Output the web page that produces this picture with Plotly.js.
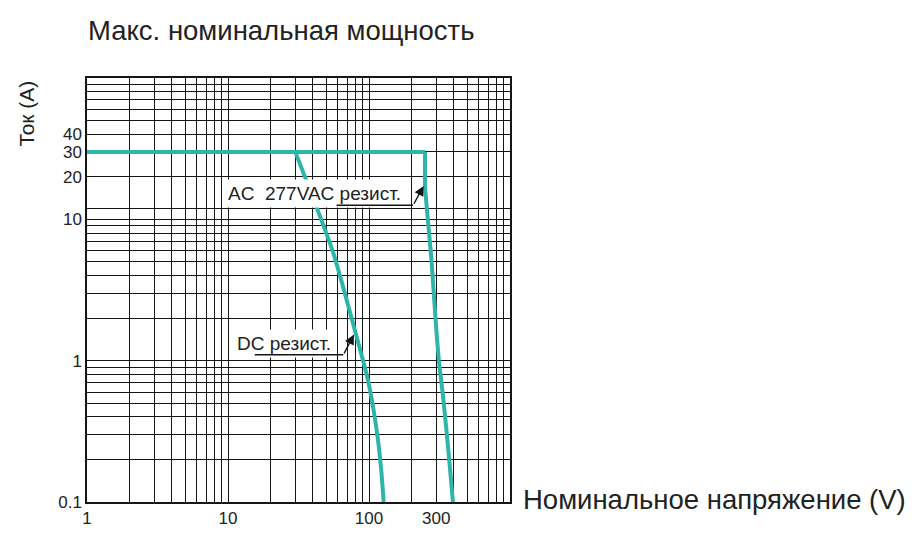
<!DOCTYPE html>
<html>
<head>
<meta charset="utf-8">
<script src="https://cdn.plot.ly/plotly-3.0.1.min.js"></script>
<style>
  html, body { margin: 0; padding: 0; background: #ffffff; }
  #chart { width: 920px; height: 536px; }
</style>
</head>
<body>
<div id="chart"></div>
<script>
// ---- data ----
// common current limit (A) across voltage (V)
const limitVolts = [1, 250];
const limitAmps = [30, 30];
// AC 277VAC resistive load curve
const acVolts = [250, 250, 277, 300, 313, 335, 363, 394];
const acAmps = [30, 17, 5.25, 1.67, 1.0, 0.56, 0.25, 0.1];
// DC resistive load curve
const dcVolts = [30, 55.6, 79, 98, 113, 122, 127];
const dcAmps = [30, 5.85, 1.67, 0.74, 0.33, 0.17, 0.1];
// labelled ticks
const xTickVals = [1, 10, 100, 300];
const xTickText = ['1', '10', '100', '300'];
const yTickVals = [0.1, 1, 10, 20, 30, 40];
const yTickText = ['0.1', '1', '10', '20', '30', '40'];
// label anchor points on the curves
const acLabelPoint = [250, 18];
const dcLabelPoint = [80, 1.6];

// ---- grid positions (every 1..9 per decade), unlabelled unless listed above ----
function decadeGrid(lo, hi, extra) {
  const out = [];
  for (let e = lo; e < hi; e++) {
    for (let m = 1; m <= 9; m++) out.push(+(m * Math.pow(10, e)).toPrecision(6));
  }
  out.push(Math.pow(10, hi));
  return out.concat(extra || []).sort((a, b) => a - b);
}
function labelsFor(vals, labVals, labText) {
  return vals.map(v => {
    const i = labVals.findIndex(l => Math.abs(l - v) / l < 1e-6);
    return i >= 0 ? labText[i] : '';
  });
}
const gridX = decadeGrid(0, 3, []);
const gridY = decadeGrid(-1, 2, [12]);

const FONT = 'Liberation Sans, Arial, Helvetica, sans-serif';
const INK = '#151515';
const TEAL = '#2cb5a8';

const lineStyle = { color: TEAL, width: 4 };

const traces = [
  { x: limitVolts, y: limitAmps, mode: 'lines', line: lineStyle, hoverinfo: 'skip' },
  { x: acVolts, y: acAmps, mode: 'lines', line: Object.assign({ shape: 'spline', smoothing: 0.5 }, lineStyle), hoverinfo: 'skip' },
  { x: dcVolts, y: dcAmps, mode: 'lines', line: Object.assign({ shape: 'spline', smoothing: 0.6 }, lineStyle), hoverinfo: 'skip' }
];

const axisCommon = {
  type: 'log',
  tickmode: 'array',
  showgrid: true,
  gridcolor: INK,
  gridwidth: 1,
  showline: true,
  mirror: true,
  linecolor: INK,
  linewidth: 1.6,
  ticks: '',
  zeroline: false,
  fixedrange: true,
  tickfont: { family: FONT, size: 17, color: '#222' },
  layer: 'below traces'
};

const xaxis = Object.assign({}, axisCommon, {
  range: [0, 3],
  tickvals: gridX,
  ticktext: labelsFor(gridX, xTickVals, xTickText)
});
const yaxis = Object.assign({}, axisCommon, {
  range: [-1, 2],
  tickvals: gridY,
  ticktext: labelsFor(gridY, yTickVals, yTickText)
});

const lx = v => Math.log10(v);
const arrowCommon = {
  xref: 'x', yref: 'y', showarrow: true, text: '',
  axref: 'pixel', ayref: 'pixel',
  arrowcolor: INK
};

const annotations = [
  // axis titles
  {
    xref: 'paper', yref: 'paper', x: 1.026, y: 0.005, xanchor: 'left', yanchor: 'middle',
    text: 'Номинальное напряжение (V)', showarrow: false,
    font: { family: FONT, size: 27.5, color: '#222' }
  },
  {
    xref: 'paper', yref: 'paper', x: -0.143, y: 0.915, xanchor: 'center', yanchor: 'middle',
    text: 'Ток (A)', textangle: -90, showarrow: false,
    font: { family: FONT, size: 21, color: '#222' }
  },
  // AC label
  {
    xref: 'x', yref: 'y', x: lx(acLabelPoint[0]), y: lx(acLabelPoint[1]),
    text: 'AC\u00a0\u00a0277VAC резист.', showarrow: false,
    xanchor: 'right', yanchor: 'middle', xshift: -20, yshift: -10,
    bgcolor: '#ffffff', borderpad: 3,
    font: { family: FONT, size: 19, color: '#222' }
  },
  Object.assign({}, arrowCommon, {
    x: lx(acLabelPoint[0]), y: lx(acLabelPoint[1]), ax: -12, ay: 22,
    arrowhead: 2, arrowsize: 1.4, arrowwidth: 1.4, standoff: 3
  }),
  Object.assign({}, arrowCommon, {
    x: lx(acLabelPoint[0]), y: lx(acLabelPoint[1]), xshift: -12, yshift: -22, ax: -78, ay: 0,
    arrowhead: 0, arrowwidth: 1.6
  }),
  // DC label
  {
    xref: 'x', yref: 'y', x: lx(dcLabelPoint[0]), y: lx(dcLabelPoint[1]),
    text: 'DC резист.', showarrow: false,
    xanchor: 'right', yanchor: 'middle', xshift: -20, yshift: -12,
    bgcolor: '#ffffff', borderpad: 3,
    font: { family: FONT, size: 19, color: '#222' }
  },
  Object.assign({}, arrowCommon, {
    x: lx(dcLabelPoint[0]), y: lx(dcLabelPoint[1]), ax: -12, ay: 23,
    arrowhead: 2, arrowsize: 1.4, arrowwidth: 1.4, standoff: 3
  }),
  Object.assign({}, arrowCommon, {
    x: lx(dcLabelPoint[0]), y: lx(dcLabelPoint[1]), xshift: -12, yshift: -23, ax: -90, ay: 0,
    arrowhead: 0, arrowwidth: 1.6
  })
];

const layout = {
  width: 920,
  height: 536,
  margin: { l: 87, r: 410, t: 78, b: 34, pad: 0 },
  paper_bgcolor: '#ffffff',
  plot_bgcolor: '#ffffff',
  showlegend: false,
  font: { family: FONT, color: '#222' },
  title: {
    text: 'Макс. номинальная мощность',
    xref: 'container', yref: 'container',
    x: 88 / 920, xanchor: 'left',
    y: 1 - 30 / 536, yanchor: 'middle',
    font: { family: FONT, size: 27.5, color: '#222' }
  },
  xaxis: xaxis,
  yaxis: yaxis,
  annotations: annotations
};

Plotly.newPlot('chart', traces, layout, { displayModeBar: false, staticPlot: true });
</script>
</body>
</html>
